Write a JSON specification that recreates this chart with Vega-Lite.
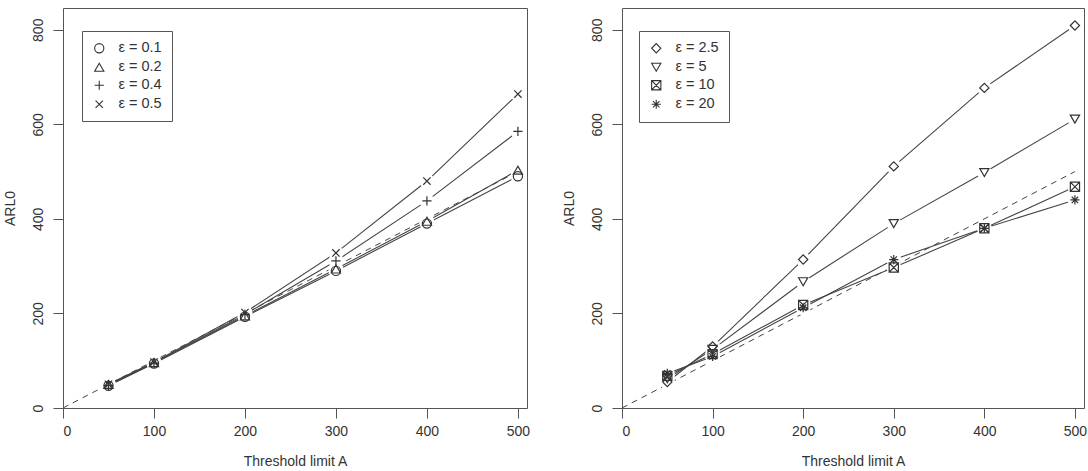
{
  "$schema": "https://vega.github.io/schema/vega-lite/v6.json",
  "autosize": {"type": "pad"},
  "padding": {"left": 2, "top": 7, "right": 0, "bottom": 0},
  "background": "white",
  "datasets": {
    "ref": [{"A": 0, "ARL": 0}, {"A": 500, "ARL": 500}],
    "left": [
      {"A": 50, "ARL": 47, "eps": "ε = 0.1"}, {"A": 100, "ARL": 94, "eps": "ε = 0.1"}, {"A": 200, "ARL": 193, "eps": "ε = 0.1"}, {"A": 300, "ARL": 290, "eps": "ε = 0.1"}, {"A": 400, "ARL": 390, "eps": "ε = 0.1"}, {"A": 500, "ARL": 490, "eps": "ε = 0.1"},
      {"A": 50, "ARL": 50, "eps": "ε = 0.2"}, {"A": 100, "ARL": 96, "eps": "ε = 0.2"}, {"A": 200, "ARL": 195, "eps": "ε = 0.2"}, {"A": 300, "ARL": 294, "eps": "ε = 0.2"}, {"A": 400, "ARL": 395, "eps": "ε = 0.2"}, {"A": 500, "ARL": 503, "eps": "ε = 0.2"},
      {"A": 50, "ARL": 48, "eps": "ε = 0.4"}, {"A": 100, "ARL": 95, "eps": "ε = 0.4"}, {"A": 200, "ARL": 198, "eps": "ε = 0.4"}, {"A": 300, "ARL": 311, "eps": "ε = 0.4"}, {"A": 400, "ARL": 438, "eps": "ε = 0.4"}, {"A": 500, "ARL": 585, "eps": "ε = 0.4"},
      {"A": 50, "ARL": 50, "eps": "ε = 0.5"}, {"A": 100, "ARL": 97, "eps": "ε = 0.5"}, {"A": 200, "ARL": 202, "eps": "ε = 0.5"}, {"A": 300, "ARL": 328, "eps": "ε = 0.5"}, {"A": 400, "ARL": 480, "eps": "ε = 0.5"}, {"A": 500, "ARL": 664, "eps": "ε = 0.5"}
    ],
    "right": [
      {"A": 50, "ARL": 55, "eps": "ε = 2.5"}, {"A": 100, "ARL": 130, "eps": "ε = 2.5"}, {"A": 200, "ARL": 314, "eps": "ε = 2.5"}, {"A": 300, "ARL": 511, "eps": "ε = 2.5"}, {"A": 400, "ARL": 677, "eps": "ε = 2.5"}, {"A": 500, "ARL": 809, "eps": "ε = 2.5"},
      {"A": 50, "ARL": 62, "eps": "ε = 5"}, {"A": 100, "ARL": 124, "eps": "ε = 5"}, {"A": 200, "ARL": 267, "eps": "ε = 5"}, {"A": 300, "ARL": 390, "eps": "ε = 5"}, {"A": 400, "ARL": 498, "eps": "ε = 5"}, {"A": 500, "ARL": 611, "eps": "ε = 5"},
      {"A": 50, "ARL": 68, "eps": "ε = 10"}, {"A": 100, "ARL": 114, "eps": "ε = 10"}, {"A": 200, "ARL": 218, "eps": "ε = 10"}, {"A": 300, "ARL": 297, "eps": "ε = 10"}, {"A": 400, "ARL": 380, "eps": "ε = 10"}, {"A": 500, "ARL": 468, "eps": "ε = 10"},
      {"A": 50, "ARL": 73, "eps": "ε = 20"}, {"A": 100, "ARL": 109, "eps": "ε = 20"}, {"A": 200, "ARL": 212, "eps": "ε = 20"}, {"A": 300, "ARL": 314, "eps": "ε = 20"}, {"A": 400, "ARL": 380, "eps": "ε = 20"}, {"A": 500, "ARL": 440, "eps": "ε = 20"}
    ]
  },
  "config": {
    "font": "Liberation Sans",
    "view": {"stroke": "#555", "strokeWidth": 1},
    "axis": {
      "domain": false, "grid": false,
      "tickSize": 10, "tickColor": "#555", "tickWidth": 1,
      "labelFontSize": 14, "labelColor": "#333",
      "titleFontSize": 14, "titleFontWeight": "normal", "titleColor": "#333"
    },
    "axisX": {"labelPadding": 6, "titlePadding": 16},
    "axisY": {"labelAngle": -90, "labelAlign": "center", "labelBaseline": "bottom", "labelPadding": 8, "titlePadding": 14},
    "legend": {
      "orient": "none", "strokeColor": "#555", "padding": 10, "rowPadding": 3,
      "labelFontSize": 14.5, "labelColor": "#333", "labelOffset": 12,
      "symbolSize": 85, "symbolStrokeColor": "#333", "symbolStrokeWidth": 1.1, "symbolFillColor": "transparent"
    }
  },
  "spacing": 95,
  "bounds": "flush",
  "hconcat": [
    {
      "width": 464, "height": 400,
      "layer": [
        {
          "data": {"name": "ref"},
          "mark": {"type": "line", "strokeDash": [6, 5], "color": "#444", "strokeWidth": 1},
          "encoding": {
            "x": {"field": "A", "type": "quantitative", "scale": {"domain": [0, 510], "nice": false}, "axis": {"values": [0, 100, 200, 300, 400, 500], "title": "Threshold limit A"}},
            "y": {"field": "ARL", "type": "quantitative", "scale": {"domain": [0, 846], "nice": false}, "axis": {"values": [0, 200, 400, 600, 800], "title": "ARL0"}}
          }
        },
        {
          "data": {"name": "left"},
          "mark": {"type": "line", "color": "#444", "strokeWidth": 1.1},
          "encoding": {
            "x": {"field": "A", "type": "quantitative"},
            "y": {"field": "ARL", "type": "quantitative"},
            "detail": {"field": "eps"}
          }
        },
        {
          "data": {"name": "left"},
          "mark": {"type": "circle", "fill": "#ffffff", "fillOpacity": 1, "opacity": 1, "strokeWidth": 0, "size": 220},
          "encoding": {
            "x": {"field": "A", "type": "quantitative"},
            "y": {"field": "ARL", "type": "quantitative"}
          }
        },
        {
          "data": {"name": "left"},
          "mark": {"type": "point", "filled": false, "color": "#333", "opacity": 1, "size": 85, "strokeWidth": 1.2},
          "encoding": {
            "x": {"field": "A", "type": "quantitative"},
            "y": {"field": "ARL", "type": "quantitative"},
            "shape": {
              "field": "eps", "type": "nominal",
              "scale": {"domain": ["ε = 0.1", "ε = 0.2", "ε = 0.4", "ε = 0.5"], "range": ["circle", "triangle-up", "M-1,0L1,0M0,-1L0,1", "M-0.8,-0.8L0.8,0.8M-0.8,0.8L0.8,-0.8"]},
              "legend": {"title": null, "legendX": 19, "legendY": 23}
            }
          }
        }
      ]
    },
    {
      "width": 462, "height": 400,
      "layer": [
        {
          "data": {"name": "ref"},
          "mark": {"type": "line", "strokeDash": [6, 5], "color": "#444", "strokeWidth": 1},
          "encoding": {
            "x": {"field": "A", "type": "quantitative", "scale": {"domain": [0, 510], "nice": false}, "axis": {"values": [0, 100, 200, 300, 400, 500], "title": "Threshold limit A"}},
            "y": {"field": "ARL", "type": "quantitative", "scale": {"domain": [0, 846], "nice": false}, "axis": {"values": [0, 200, 400, 600, 800], "title": "ARL0"}}
          }
        },
        {
          "data": {"name": "right"},
          "mark": {"type": "line", "color": "#444", "strokeWidth": 1.1},
          "encoding": {
            "x": {"field": "A", "type": "quantitative"},
            "y": {"field": "ARL", "type": "quantitative"},
            "detail": {"field": "eps"}
          }
        },
        {
          "data": {"name": "right"},
          "mark": {"type": "circle", "fill": "#ffffff", "fillOpacity": 1, "opacity": 1, "strokeWidth": 0, "size": 220},
          "encoding": {
            "x": {"field": "A", "type": "quantitative"},
            "y": {"field": "ARL", "type": "quantitative"}
          }
        },
        {
          "data": {"name": "right"},
          "mark": {"type": "point", "filled": false, "color": "#333", "opacity": 1, "size": 85, "strokeWidth": 1.2},
          "encoding": {
            "x": {"field": "A", "type": "quantitative"},
            "y": {"field": "ARL", "type": "quantitative"},
            "shape": {
              "field": "eps", "type": "nominal",
              "scale": {"domain": ["ε = 2.5", "ε = 5", "ε = 10", "ε = 20"], "range": ["diamond", "triangle-down", "M-1,-1L1,-1L1,1L-1,1ZM-1,-1L1,1M-1,1L1,-1", "M-1,0L1,0M0,-1L0,1M-0.7,-0.7L0.7,0.7M-0.7,0.7L0.7,-0.7"]},
              "legend": {"title": null, "legendX": 17, "legendY": 23}
            }
          }
        }
      ]
    }
  ],
  "resolve": {"scale": {"shape": "independent"}}
}
